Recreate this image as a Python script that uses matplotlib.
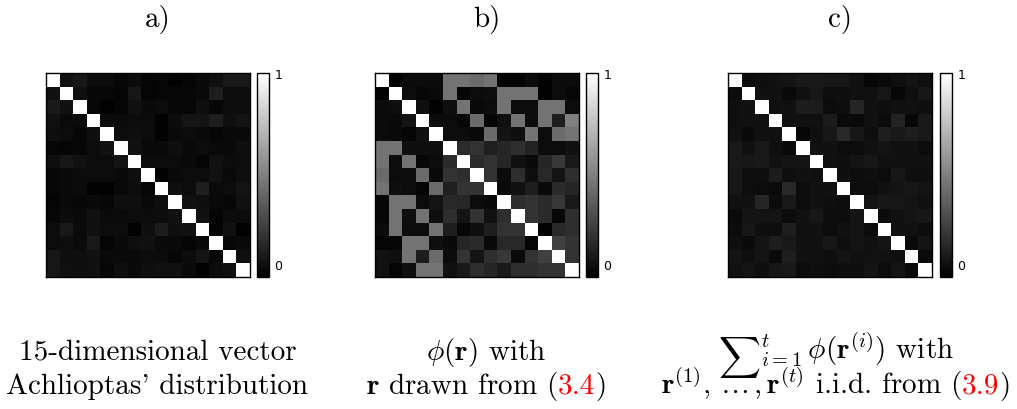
import numpy as np
import matplotlib
matplotlib.use("Agg")
import matplotlib.pyplot as plt
import matplotlib.transforms as mtransforms

plt.rcParams["font.family"] = "serif"
plt.rcParams["font.serif"] = ["cmr10"]
plt.rcParams["mathtext.fontset"] = "cm"
plt.rcParams["axes.unicode_minus"] = False

# correlation-like matrices
mat_a = [
    [1, .07, .09, .05, .05, .03, .05, .02, .03, .01, .02, .04, .06, .10, .10],
    [.07, 1, .06, .03, .03, .02, .09, .02, .03, .03, .03, .04, .12, .05, .05],
    [.10, .07, 1, .03, .01, .02, .07, .04, .05, .03, .03, .06, .03, .05, .05],
    [.07, .04, .05, 1, .05, .04, .05, .05, .01, .05, .08, .08, .12, .06, .08],
    [.06, .05, .03, .06, 1, .05, .06, .05, .01, .04, .05, .04, .02, .04, .04],
    [.03, .02, .03, .05, .07, 1, .07, .04, .04, .06, .04, .05, .04, .04, .06],
    [.06, .09, .07, .05, .05, .08, 1, .05, .05, .05, .04, .02, .07, .05, .06],
    [.03, .04, .05, .05, .05, .04, .06, 1, .01, .04, .05, .05, .07, .04, .06],
    [.03, .04, .05, .01, .01, .04, .05, .03, 1, .06, .05, .12, .04, .05, .08],
    [.02, .04, .03, .04, .03, .06, .06, .04, .06, 1, .07, .06, .04, .03, .07],
    [.03, .05, .04, .07, .04, .04, .05, .05, .05, .07, 1, .07, .02, .05, .05],
    [.05, .10, .04, .07, .05, .05, .01, .06, .11, .06, .07, 1, .02, .07, .01],
    [.05, .06, .04, .10, .02, .04, .06, .07, .04, .04, .02, .04, 1, .03, .04],
    [.09, .06, .06, .07, .04, .04, .04, .05, .05, .03, .05, .08, .03, 1, .06],
    [.09, .07, .06, .07, .03, .06, .04, .06, .07, .07, .04, .01, .05, .07, 1],
]

mat_b = [
    [1, .01, .04, .05, .05, .45, .45, .42, .45, .02, .02, .05, .01, .05, .05],
    [.01, 1, .05, .03, .04, .45, .03, .05, .06, .45, .45, .45, .01, .05, .03],
    [.05, .06, 1, .06, .01, .06, .45, .04, .05, .45, .05, .05, .45, .45, .05],
    [.05, .04, .08, 1, .05, .05, .03, .42, .02, .06, .45, .05, .45, .12, .50],
    [.05, .04, .02, .07, 1, .05, .05, .04, .42, .08, .06, .45, .05, .42, .45],
    [.45, .45, .06, .06, .06, 1, .17, .20, .13, .15, .18, .14, .05, .05, .07],
    [.45, .05, .45, .03, .05, .17, 1, .17, .20, .15, .07, .04, .15, .22, .10],
    [.42, .05, .05, .42, .04, .20, .18, 1, .20, .05, .18, .06, .16, .08, .18],
    [.45, .06, .05, .02, .42, .13, .20, .20, 1, .04, .07, .12, .04, .17, .15],
    [.03, .45, .45, .05, .08, .16, .15, .05, .04, 1, .18, .20, .17, .22, .10],
    [.03, .45, .06, .45, .06, .18, .08, .20, .07, .18, 1, .20, .17, .03, .18],
    [.05, .45, .05, .05, .45, .12, .03, .06, .12, .20, .20, 1, .01, .16, .18],
    [.02, .02, .45, .45, .06, .04, .15, .17, .04, .16, .16, .02, 1, .25, .20],
    [.07, .06, .45, .12, .42, .05, .20, .08, .18, .22, .04, .20, .25, 1, .20],
    [.07, .02, .06, .45, .45, .07, .10, .18, .15, .10, .18, .18, .20, .20, 1],
]

mat_c = [
    [1, .05, .06, .07, .08, .10, .10, .09, .09, .07, .03, .04, .06, .08, .06],
    [.05, 1, .07, .07, .04, .07, .09, .06, .06, .07, .07, .09, .03, .06, .09],
    [.06, .07, 1, .06, .07, .11, .11, .05, .06, .15, .07, .06, .07, .07, .06],
    [.06, .07, .07, 1, .07, .07, .07, .11, .04, .04, .07, .05, .14, .03, .10],
    [.07, .04, .07, .07, 1, .03, .06, .09, .16, .09, .06, .12, .10, .12, .10],
    [.10, .07, .10, .06, .04, 1, .07, .07, .05, .05, .07, .08, .07, .07, .05],
    [.10, .09, .10, .07, .08, .08, 1, .07, .06, .08, .09, .07, .07, .07, .07],
    [.09, .06, .06, .11, .06, .07, .06, 1, .06, .05, .06, .05, .09, .06, .06],
    [.09, .06, .05, .04, .16, .05, .07, .07, 1, .05, .05, .07, .08, .09, .08],
    [.07, .07, .15, .05, .10, .05, .07, .06, .05, 1, .08, .09, .09, .08, .07],
    [.04, .08, .08, .08, .05, .07, .09, .05, .05, .08, 1, .05, .07, .08, .09],
    [.05, .09, .06, .06, .12, .07, .07, .05, .07, .08, .05, 1, .07, .07, .05],
    [.06, .04, .08, .12, .10, .07, .07, .09, .06, .08, .07, .08, 1, .04, .08],
    [.08, .06, .08, .04, .12, .07, .07, .06, .08, .07, .07, .07, .06, 1, .04],
    [.07, .08, .06, .09, .10, .05, .06, .05, .06, .06, .08, .05, .08, .04, 1],
]

titles = ["a)", "b)", "c)"]

# caption lines: list of (text, colour, vertical shift in px) pieces per line
captions = [
    [[("15-dimensional vector", "black", 0)],
     [("Achlioptas' distribution", "black", 0)]],
    [[(r"$\phi(\mathbf{r})$ with", "black", 0)],
     [(r"$\mathbf{r}$ drawn from (", "black", 0), ("3.4", "red", 0), (")", "black", 0)]],
    [[(r"$\sum$", "black", -7),
      (r"${}_{i=1}^{t}\,\phi(\mathbf{r}^{(i)})$ with", "black", 0)],
     [(r"$\mathbf{r}^{(1)},\,\ldots\,,\mathbf{r}^{(t)}$ i.i.d. from (", "black", 0),
      ("3.9", "red", 0), (")", "black", 0)]],
]

W, H = 1017, 410
fig = plt.figure(figsize=(W / 100, H / 100), dpi=100)
renderer = fig.canvas.get_renderer()

# pixel boxes: matrix left, colorbar left
mat_left = [46, 375, 728]
cbar_left = [257, 586, 940]
mat_top, mat_size = 74, 204
cbar_w = 12
fs = 21
base_y = [360, 394]  # caption baselines (px from top)
cap_shift = [0, 0, -4]  # caption centre offsets

for k, m in enumerate([mat_a, mat_b, mat_c]):
    ax = fig.add_axes([mat_left[k] / W, 1 - (mat_top + mat_size) / H,
                       mat_size / W, mat_size / H])
    im = ax.imshow(np.array(m), cmap="gray", vmin=0, vmax=1,
                   interpolation="nearest", aspect="auto")
    ax.set_xticks([])
    ax.set_yticks([])
    for s in ax.spines.values():
        s.set_linewidth(1.0)

    cax = fig.add_axes([cbar_left[k] / W, 1 - (mat_top + mat_size) / H,
                        cbar_w / W, mat_size / H])
    cb = fig.colorbar(im, cax=cax, ticks=[0, 1])
    cb.ax.tick_params(length=0, pad=4)
    cb.ax.set_yticklabels(["0", "1"], fontfamily="DejaVu Sans", fontsize=9)
    cb.outline.set_linewidth(1.0)
    lab0 = cb.ax.get_yticklabels()[0]
    lab0.set_va("bottom")
    lab0.set_transform(lab0.get_transform() +
                       mtransforms.ScaledTranslation(0, 5 / 100, fig.dpi_scale_trans))

    cx = (mat_left[k] + cbar_left[k] + cbar_w) / 2
    fig.text(cx / W, 1 - 27 / H, titles[k], ha="center", va="baseline", fontsize=fs)

    # caption: pieces laid side by side on a shared baseline, line centred
    for li, line in enumerate(captions[k]):
        pieces = [fig.text(0, 1 - (base_y[li] - dy) / H, t, color=c, fontsize=fs,
                           ha="left", va="baseline") for t, c, dy in line]
        widths = [p.get_window_extent(renderer).width for p in pieces]
        x = cx + cap_shift[k] - sum(widths) / 2
        for p, w in zip(pieces, widths):
            p.set_x(x / W)
            x += w

fig.savefig("out.png", dpi=100)
